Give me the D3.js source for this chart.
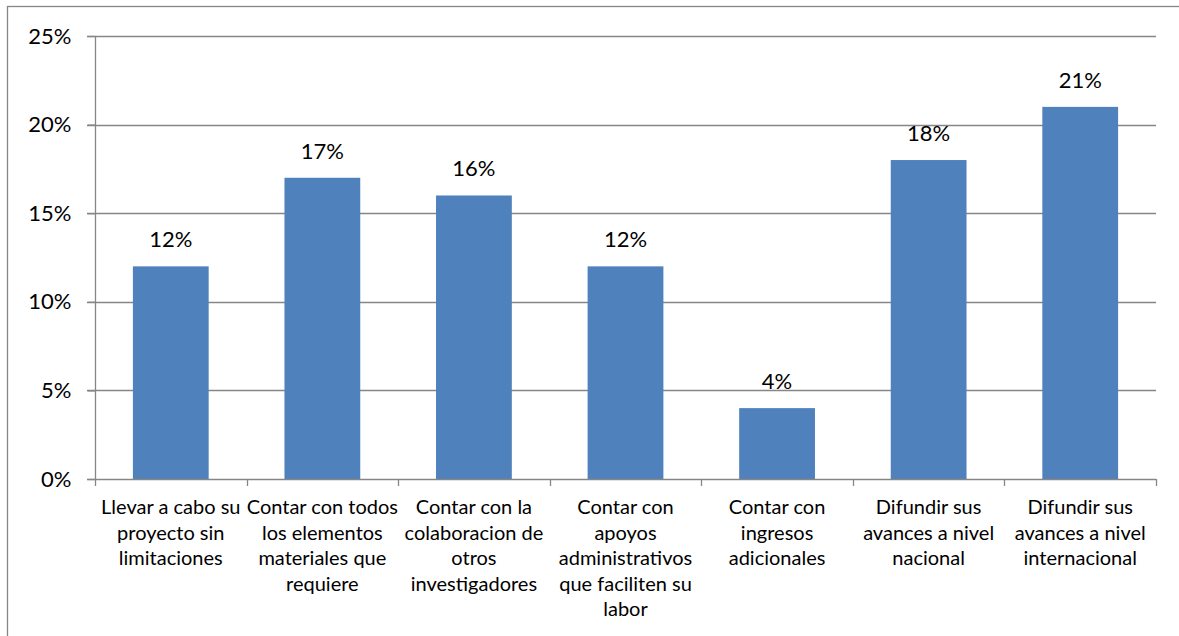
<!DOCTYPE html>
<html><head><meta charset="utf-8">
<script src="https://cdn.jsdelivr.net/npm/d3@7"></script>
<style>body{margin:0;background:#fff}svg{display:block}</style>
</head><body><svg id="c" width="1179" height="636"></svg>
<script>
const categories = [
  ["Llevar a cabo su","proyecto sin","limitaciones"],
  ["Contar con todos","los elementos","materiales que","requiere"],
  ["Contar con la","colaboracion de","otros","investigadores"],
  ["Contar con","apoyos","administrativos","que faciliten su","labor"],
  ["Contar con","ingresos","adicionales"],
  ["Difundir sus","avances a nivel","nacional"],
  ["Difundir sus","avances a nivel","internacional"]
];
const values = [12,17,16,12,4,18,21];
const yTicks = [0,5,10,15,20,25];

const font = "Lato, 'Open Sans', sans-serif";
const svg = d3.select("#c");
const m = {l:95, r:1156, t:36, b:479};
const x = d3.scaleBand().domain(d3.range(values.length)).range([m.l,m.r]).paddingInner(0.5).paddingOuter(0.25);
const xb = d3.scaleBand().domain(d3.range(values.length)).range([m.l,m.r]);
const y = d3.scaleLinear().domain([0,25]).range([m.b,m.t]);

// outer frame
svg.append("rect").attr("x",7.5).attr("y",6.5).attr("width",1200).attr("height",700)
  .attr("fill","none").attr("stroke","#868686").attr("stroke-width",1.3);

// gridlines
svg.append("g").selectAll("line").data(yTicks.filter(d=>d>0)).join("line")
  .attr("x1",m.l-8).attr("x2",m.r).attr("y1",d=>Math.round(y(d))+0.5).attr("y2",d=>Math.round(y(d))+0.5)
  .attr("stroke","#868686").attr("stroke-width",1.3);

// y axis
const ya = svg.append("g").attr("transform",`translate(${m.l+0.5},0)`)
  .call(d3.axisLeft(y).tickValues(yTicks).tickFormat(d=>d+"%").tickSize(8).tickPadding(16));
ya.select(".domain").attr("stroke","#868686").attr("stroke-width",1.3).attr("d",`M0,${m.t}V${m.b}`);
ya.selectAll(".tick line").attr("stroke","#868686").attr("stroke-width",1.3);
ya.selectAll(".tick text").attr("font-family",font).attr("font-size",22).attr("fill","#000");

// bars
svg.append("g").selectAll("rect").data(values).join("rect")
  .attr("x",(d,i)=>x(i)).attr("width",x.bandwidth())
  .attr("y",d=>y(d)).attr("height",d=>y(0)-y(d)).attr("fill","#4F81BD");

// x axis line & ticks
svg.append("line").attr("x1",m.l-8).attr("x2",m.r).attr("y1",m.b+0.5).attr("y2",m.b+0.5)
  .attr("stroke","#868686").attr("stroke-width",1.3);
svg.append("g").selectAll("line").data(d3.range(values.length+1)).join("line")
  .attr("x1",i=>Math.round(m.l+i*xb.bandwidth())+0.5).attr("x2",i=>Math.round(m.l+i*xb.bandwidth())+0.5)
  .attr("y1",m.b).attr("y2",m.b+7).attr("stroke","#868686").attr("stroke-width",1.3);

// data labels
svg.append("g").selectAll("text").data(values).join("text")
  .attr("x",(d,i)=>x(i)+x.bandwidth()/2).attr("y",d=>y(d)-19)
  .attr("text-anchor","middle").attr("font-family",font).attr("font-size",22).attr("fill","#000")
  .text(d=>d+"%");

// category labels
const cl = svg.append("g").selectAll("text").data(categories).join("text")
  .attr("text-anchor","middle").attr("font-family",font).attr("font-size",20).attr("fill","#000");
cl.each(function(lines,i){
  d3.select(this).selectAll("tspan").data(lines).join("tspan")
    .attr("x",xb(i)+xb.bandwidth()/2).attr("y",(d,j)=>514+j*25.6).text(d=>d);
});
</script></body></html>
